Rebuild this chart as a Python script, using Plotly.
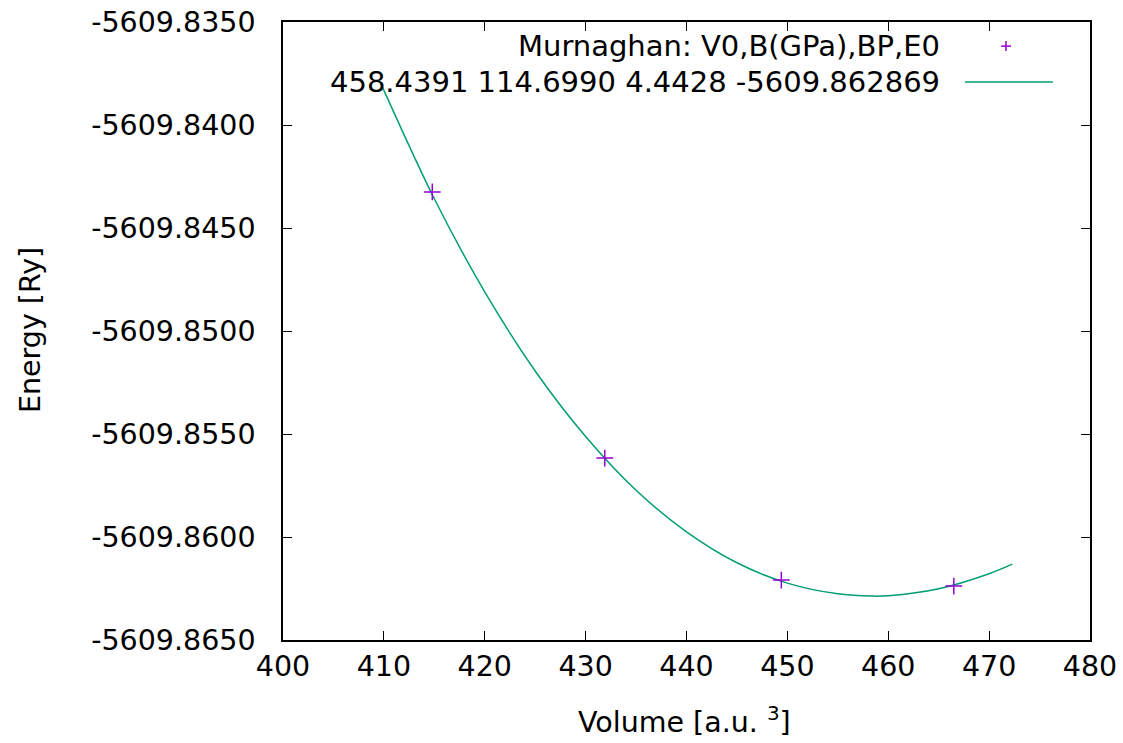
import plotly.graph_objects as go

# Data points (volume, energy)
vol_pts = [414.8, 431.9, 449.4, 466.5]
e_pts = [-5609.84325, -5609.85617, -5609.86209, -5609.86238]

# Fitted Murnaghan curve
vol_fit = [409.7, 410, 415, 420, 425, 430, 435, 440, 445, 450, 455, 458.44, 460, 465, 470, 472.3]
e_fit = [-5609.83800, -5609.83832, -5609.84358, -5609.84810, -5609.85194, -5609.85512,
         -5609.85773, -5609.85975, -5609.86125, -5609.86224, -5609.86276, -5609.86287,
         -5609.86285, -5609.86251, -5609.86178, -5609.86132]

x_ticks = [400, 410, 420, 430, 440, 450, 460, 470, 480]
y_ticks = [-5609.835, -5609.840, -5609.845, -5609.850, -5609.855, -5609.860, -5609.865]
y_tick_text = ["-5609.8350", "-5609.8400", "-5609.8450", "-5609.8500",
               "-5609.8550", "-5609.8600", "-5609.8650"]

legend_title = "Murnaghan: V0,B(GPa),BP,E0"
legend_fit = "458.4391 114.6990 4.4428 -5609.862869"

PURPLE = "#9400D3"
GREEN = "#009E73"
FONT = "DejaVu Sans"
FS = 28.5
FS_LEG = 29

fig = go.Figure()
fig.add_trace(go.Scatter(
    x=vol_fit, y=e_fit, mode="lines", line=dict(color=GREEN, width=1.5, shape="spline"),
    showlegend=False, hoverinfo="skip"))
fig.add_trace(go.Scatter(
    x=vol_pts, y=e_pts, mode="markers",
    marker=dict(symbol="cross-thin", size=12, line=dict(color=PURPLE, width=1.5)),
    showlegend=False))

axis_common = dict(
    showline=True, mirror="ticks", linecolor="black", linewidth=1.5,
    ticks="inside", ticklen=9, tickwidth=1.2, tickcolor="black",
    showgrid=False, zeroline=False, automargin=False, ticklabeloverflow="allow",
    tickfont=dict(family=FONT, size=FS, color="black"),
)

fig.update_xaxes(range=[400, 480], tickvals=x_ticks, ticktext=[str(v) for v in x_ticks],
                 ticklabelstandoff=0, **axis_common)
fig.update_yaxes(range=[-5609.865, -5609.835], tickvals=y_ticks, ticktext=y_tick_text,
                 ticklabelstandoff=20, **axis_common)

ann_font = dict(family=FONT, size=FS, color="black")
leg_font = dict(family=FONT, size=FS_LEG, color="black")
annotations = [
    dict(text="Volume [a.u. <sup>3</sup>]", x=0.498, y=-0.129, xref="paper", yref="paper",
         showarrow=False, xanchor="center", yanchor="middle", font=ann_font),
    dict(text="Energy [Ry]", x=-0.3135, y=0.5016, xref="paper", yref="paper", textangle=-90,
         showarrow=False, xanchor="center", yanchor="middle", font=ann_font),
    dict(text=legend_title, x=0.8166, y=0.961, xref="paper", yref="paper",
         showarrow=False, xanchor="right", yanchor="middle", font=leg_font),
    dict(text=legend_fit, x=0.8166, y=0.903, xref="paper", yref="paper",
         showarrow=False, xanchor="right", yanchor="middle", font=leg_font),
]

shapes = [
    # legend sample: plus marker
    dict(type="line", xref="paper", yref="paper", x0=0.8897, x1=0.9021, y0=0.961, y1=0.961,
         line=dict(color=PURPLE, width=1.5)),
    dict(type="line", xref="paper", yref="paper", x0=0.8959, x1=0.8959, y0=0.9529, y1=0.9691,
         line=dict(color=PURPLE, width=1.5)),
    # legend sample: line
    dict(type="line", xref="paper", yref="paper", x0=0.845, x1=0.954, y0=0.903, y1=0.903,
         line=dict(color=GREEN, width=1.5)),
]

fig.update_layout(
    width=1123, height=743,
    margin=dict(l=283, r=33, t=22, b=103),
    paper_bgcolor="white", plot_bgcolor="white",
    font=dict(family=FONT, size=FS, color="black"),
    annotations=annotations, shapes=shapes, showlegend=False,
)

fig.write_html("out.html", config={"displayModeBar": False},
               post_script="document.body.style.margin='0';document.body.style.overflow='hidden';")
